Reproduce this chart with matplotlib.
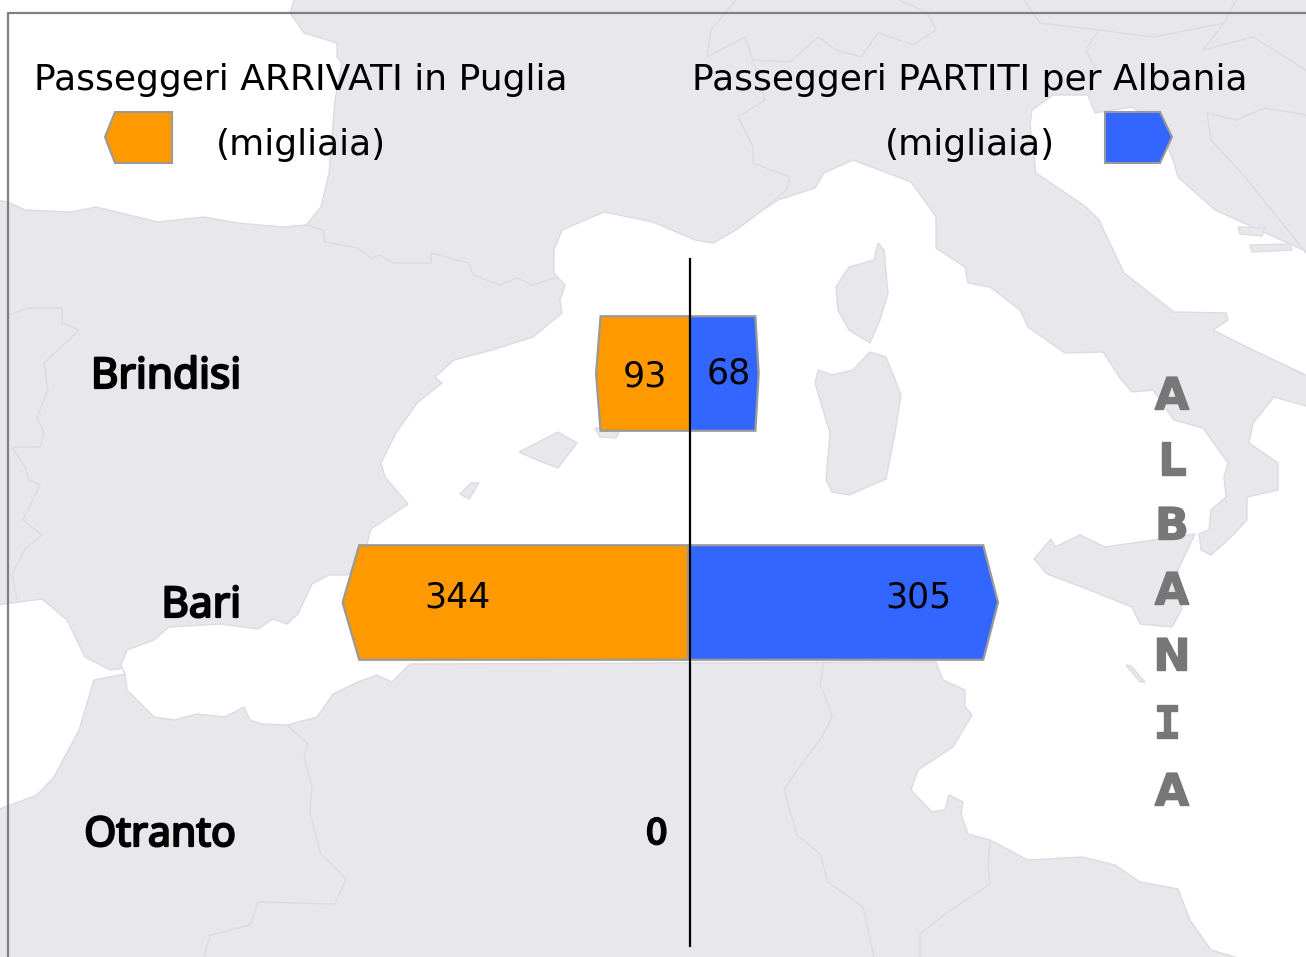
import matplotlib
matplotlib.use('Agg')
import matplotlib.pyplot as plt
import matplotlib.patheffects as pe
from matplotlib.patches import Polygon

# chart data (thousands of passengers)
ports = ['Brindisi', 'Bari', 'Otranto']
arrivati = [93, 344, 0]
partiti = [68, 305, 0]
albania = ['A', 'L', 'B', 'A', 'N', 'I', 'A']

land = '#E8E7EC'
border = '#DCDBE1'
orange = '#FF9900'
blue = '#3366FF'
edge = '#999999'

# map outline, in image pixels
atlantic = [(-3, -3), (295, -3), (290, 13), (304, 33), (337, 43), (337, 57), (342, 63), (335, 100), (329, 173),
            (321, 207), (306, 225), (283, 227), (237, 223), (204, 217), (158, 222), (121, 213), (96, 207),
            (71, 212), (25, 210), (8, 202), (-3, 200)]
atlantic_south = [(-3, 605), (42, 599), (67, 620), (85, 657), (110, 670), (125, 668), (125, 674), (94, 680),
                  (79, 730), (54, 777), (37, 795), (-3, 810)]
med = [(653, 222), (604, 212), (562, 230), (554, 250), (554, 273), (565, 285), (560, 300), (562, 313),
       (533, 337), (492, 350), (454, 360), (435, 377), (442, 383), (417, 403), (396, 433), (381, 463),
       (385, 477), (408, 504), (371, 529), (367, 544), (348, 575), (329, 575), (312, 584), (298, 614),
       (287, 624), (273, 619), (258, 629), (221, 624), (169, 627), (154, 640), (127, 650), (121, 665),
       (125, 674), (127, 690), (154, 717), (175, 720), (196, 714), (225, 717), (244, 707), (250, 720),
       (262, 724), (287, 725), (317, 717), (333, 694), (358, 682), (377, 675), (392, 682), (410, 664),
       (936, 662), (943, 680), (965, 690), (965, 707), (972, 715), (953, 747), (918, 770), (911, 790),
       (932, 812), (945, 810), (949, 795), (963, 802), (961, 814), (968, 834), (990, 840), (1028, 860),
       (1082, 857), (1115, 865), (1140, 882), (1178, 889), (1190, 920), (1211, 950), (1245, 960),
       (1310, 960), (1310, 407), (1274, 397), (1253, 423), (1249, 443), (1278, 463), (1278, 490),
       (1247, 497), (1247, 520), (1228, 540), (1211, 555), (1201, 550), (1199, 534), (1209, 530),
       (1211, 510), (1226, 497), (1224, 477), (1228, 463), (1203, 428), (1174, 420), (1153, 390),
       (1132, 392), (1120, 378), (1103, 352), (1065, 353), (1028, 327), (1020, 310), (990, 287),
       (968, 283), (965, 267), (936, 248), (936, 217), (924, 200), (911, 182), (853, 160), (824, 173),
       (815, 188), (778, 200), (763, 210), (736, 230), (713, 243), (695, 240)]
adriatic = [(1310, 253), (1215, 210), (1178, 177), (1174, 163), (1160, 125), (1132, 107), (1095, 113),
            (1088, 95), (1053, 95), (1032, 110), (1030, 125), (1036, 173), (1086, 207), (1099, 220),
            (1124, 273), (1174, 312), (1226, 313), (1228, 320), (1213, 330), (1253, 350), (1310, 377)]
islands = [
    [(1034, 559), (1051, 539), (1055, 547), (1080, 535), (1105, 547), (1195, 534), (1178, 570), (1182, 609),
     (1172, 627), (1140, 624), (1132, 607), (1082, 587), (1047, 574)],
    [(878, 243), (884, 250), (888, 293), (880, 320), (870, 343), (849, 330), (838, 310), (836, 287), (849, 267),
     (874, 260)],
    [(870, 352), (886, 357), (901, 395), (895, 433), (886, 479), (849, 495), (832, 492), (826, 480), (830, 433),
     (815, 383), (818, 370), (832, 375), (853, 370)],
    [(519, 452), (558, 432), (577, 443), (558, 468), (537, 460)],
    [(460, 494), (471, 483), (479, 483), (469, 499)],
    [(595, 428), (620, 430), (616, 438), (600, 437)],
    [(1126, 665), (1131, 666), (1145, 682), (1140, 682)],
    [(1238, 227), (1265, 228), (1262, 236), (1240, 234)],
    [(1250, 245), (1290, 244), (1292, 250), (1252, 252)],
]
borders = [
    [(306, 225), (323, 230), (325, 242), (358, 248), (371, 258), (379, 255), (394, 263), (431, 263), (431, 253),
     (469, 263), (473, 275), (500, 285), (517, 278), (533, 285), (558, 277)],
    [(8, 315), (29, 308), (62, 308), (62, 323), (79, 330), (44, 363), (48, 390), (37, 417), (44, 433), (40, 447),
     (12, 447), (25, 467), (29, 480), (40, 485), (23, 520), (42, 535), (25, 549), (12, 574), (17, 599)],
    [(287, 725), (308, 744), (304, 757), (312, 787), (310, 814), (321, 854), (346, 879), (335, 904), (258, 902),
     (250, 925), (210, 935), (204, 957)],
    [(824, 662), (820, 684), (828, 704), (832, 717), (822, 737), (797, 770), (784, 790), (797, 835), (820, 854),
     (828, 882), (863, 907), (874, 957)],
    [(990, 840), (988, 864), (990, 884), (945, 914), (920, 934), (920, 957)],
    [(736, 0), (711, 30), (707, 57), (745, 37), (753, 60), (765, 100), (738, 117), (753, 147), (753, 163),
     (790, 177), (786, 190), (763, 210)],
    [(753, 60), (790, 62), (818, 37), (836, 50), (861, 57), (878, 33), (913, 45), (936, 30), (928, 13), (899, 0)],
    [(1024, 0), (1040, 23), (1099, 30), (1153, 37), (1224, 23), (1236, 0)],
    [(1099, 30), (1090, 43), (1086, 50), (1095, 67), (1090, 93)],
    [(1224, 23), (1203, 50), (1253, 37), (1306, 70)],
    [(1207, 113), (1211, 140), (1245, 177), (1306, 253)],
    [(1207, 113), (1236, 120), (1265, 108), (1306, 115)],
]

fig = plt.figure(figsize=(13.06, 9.57), dpi=100)

# background map
bg = fig.add_axes([0, 0, 1, 1])
bg.set_xlim(0, 1306)
bg.set_ylim(957, 0)
bg.axis('off')
bg.add_patch(Polygon([(0, 0), (1306, 0), (1306, 957), (0, 957)], fc=land, ec='none'))
for sea in [atlantic, atlantic_south, med, adriatic]:
    bg.add_patch(Polygon(sea, fc='white', ec=border, lw=1))
for isl in islands:
    bg.add_patch(Polygon(isl, fc=land, ec=border, lw=1))
for b in borders:
    bg.plot([p[0] for p in b], [p[1] for p in b], color=border, lw=1)
bg.plot([8, 8, 1306], [957, 13, 13], color='#808080', lw=1.6)

# legend
bg.add_patch(Polygon([(105, 137), (115, 112), (172, 112), (172, 163), (115, 163)], fc=orange, ec=edge, lw=1.5))
bg.add_patch(Polygon([(1105, 112), (1160, 112), (1172, 137), (1160, 163), (1105, 163)], fc=blue, ec=edge, lw=1.5))
bg.text(301, 80, 'Passeggeri ARRIVATI in Puglia', fontsize=26, ha='center', va='center')
bg.text(301, 145, '(migliaia)', fontsize=26, ha='center', va='center')
bg.text(970, 80, 'Passeggeri PARTITI per Albania', fontsize=26, ha='center', va='center')
bg.text(970, 145, '(migliaia)', fontsize=26, ha='center', va='center')

# bars, 1 thousand passengers is about 1 pixel
ax = fig.add_axes([0, 0, 1, 1], facecolor='none')
ax.set_xlim(-690 / 1.01, 616 / 1.01)
ax.set_ylim(583.5 / 229, -373.5 / 229)
ax.axis('off')


def bar(y, value, side, color, base=0):
    tip = 0.048 * value
    h = 0.25
    body = side * (value - tip)
    pts = [(base, y - h), (body, y - h), (side * value, y), (body, y + h), (base, y + h)]
    ax.add_patch(Polygon(pts, fc=color, ec=edge, lw=1.6))


for i, port in enumerate(ports):
    if arrivati[i] > 0:
        # the long orange bar stops just short of the axis
        bar(i, arrivati[i], -1, orange, base=-2 if arrivati[i] > 100 else 0)
    if partiti[i] > 0:
        bar(i, partiti[i], 1, blue)

ax.plot([0, 0], [-0.5, 2.5], color='black', lw=1.6)

thick = [pe.withStroke(linewidth=1.6, foreground='black')]

ax.text(-45, 0.015, str(arrivati[0]), fontsize=25, ha='center', va='center')
ax.text(38, 0.002, str(partiti[0]), fontsize=25, ha='center', va='center')
ax.text(-230, 0.98, str(arrivati[1]), fontsize=25, ha='center', va='center')
ax.text(226, 0.98, str(partiti[1]), fontsize=25, ha='center', va='center')
ax.text(-33, 2.01, str(arrivati[2]), fontsize=25, ha='center', va='center', path_effects=thick)

bg.text(241, 377, ports[0], fontsize=30.5, family='Noto Sans', ha='right', va='center', path_effects=thick)
bg.text(241, 606, ports[1], fontsize=30.5, family='Noto Sans', ha='right', va='center', path_effects=thick)
bg.text(236, 835, ports[2], fontsize=29.5, family='Noto Sans', ha='right', va='center', path_effects=thick)

# vertical label on the right
for letter, y in zip(albania, [397, 462, 527, 592, 658, 725, 793]):
    fam = 'DejaVu Sans Mono' if letter == 'I' else 'DejaVu Sans'
    x = 1167 if letter == 'I' else 1172
    bg.text(x, y, letter, fontsize=32, fontweight='bold', family=fam, color='#777777', ha='center', va='center',
            path_effects=[pe.withStroke(linewidth=1, foreground='#777777')])

fig.savefig('out.png', dpi=100)
